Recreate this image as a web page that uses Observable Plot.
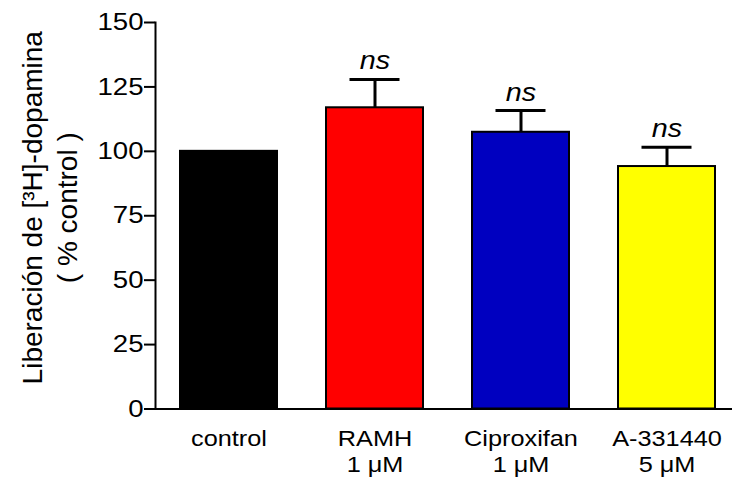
<!DOCTYPE html>
<html>
<head>
<meta charset="utf-8">
<script src="https://cdn.jsdelivr.net/npm/d3@7"></script>
<script src="https://cdn.jsdelivr.net/npm/@observablehq/plot@0.6"></script>
<style>
  html, body { margin: 0; padding: 0; background: #fff; }
</style>
</head>
<body>
<div id="chart"></div>
<script>
const categories = ["control", "RAMH\n1 \u03bcM", "Ciproxifan\n1 \u03bcM", "A-331440\n5 \u03bcM"];
const values = [100, 116.9, 107.4, 94.1];
const errors = [0, 11, 8.4, 7.5];
const colors = ["#000000", "#ff0000", "#0000c0", "#ffff00"];
const significance = ["", "ns", "ns", "ns"];
const yTicks = [0, 25, 50, 75, 100, 125, 150];
const yTitle = ["Liberaci\u00f3n de [\u00b3H]-dopamina", "( % control )"];

const data = categories.map((c, i) => ({
  cat: c, value: values[i], top: values[i] + errors[i], err: errors[i],
  color: colors[i], sig: significance[i]
}));

const chart = Plot.plot({
  width: 732,
  height: 477,
  marginLeft: 155,
  marginRight: 0,
  marginTop: 22,
  marginBottom: 68.5,
  style: { fontFamily: "'Liberation Sans', Arial, sans-serif", background: "white", color: "black", overflow: "visible" },
  x: { domain: categories, range: [155, 740], paddingInner: 0.336, paddingOuter: 0.168, label: null },
  y: { domain: [0, 150], label: null },
  color: { type: "identity" },
  marks: [
    Plot.frame({ anchor: "left", strokeWidth: 2 }),
    Plot.axisY({ ticks: yTicks, tickSize: 11, tickPadding: 1, fontSize: 24, strokeWidth: 2, label: null }),
    Plot.axisX({ tickSize: 0, tickPadding: 18, fontSize: 22, lineHeight: 1.2, label: null }),
    Plot.ruleX(data.filter(d => d.err > 0), { x: "cat", y1: "value", y2: "top", strokeWidth: 3 }),
    Plot.tickY(data.filter(d => d.err > 0), { x: "cat", y: "top", strokeWidth: 3, insetLeft: 23.5, insetRight: 23.5 }),
    Plot.barY(data, { x: "cat", y: "value", fill: "color", stroke: "black", strokeWidth: 2 }),
    Plot.ruleY([0], { strokeWidth: 2 }),
    Plot.text(data, { x: "cat", y: "top", text: "sig", dy: -10, lineAnchor: "bottom", fontSize: 25, fontStyle: "italic" }),
    Plot.text([yTitle[0]], { text: d => d, frameAnchor: "left", textAnchor: "middle", rotate: -90, dx: -122, dy: -8, fontSize: 28 }),
    Plot.text([yTitle[1]], { text: d => d, frameAnchor: "left", textAnchor: "middle", rotate: -90, dx: -87, dy: -8, fontSize: 28 })
  ]
});

// horizontal stretch of non-rotated labels to match the reference's aspect
chart.querySelectorAll("text").forEach(t => {
  const tr = t.getAttribute("transform");
  if (tr && !/rotate/.test(tr)) t.setAttribute("transform", tr + " scale(1.15,1)");
});

document.getElementById("chart").appendChild(chart);
</script>
</body>
</html>
